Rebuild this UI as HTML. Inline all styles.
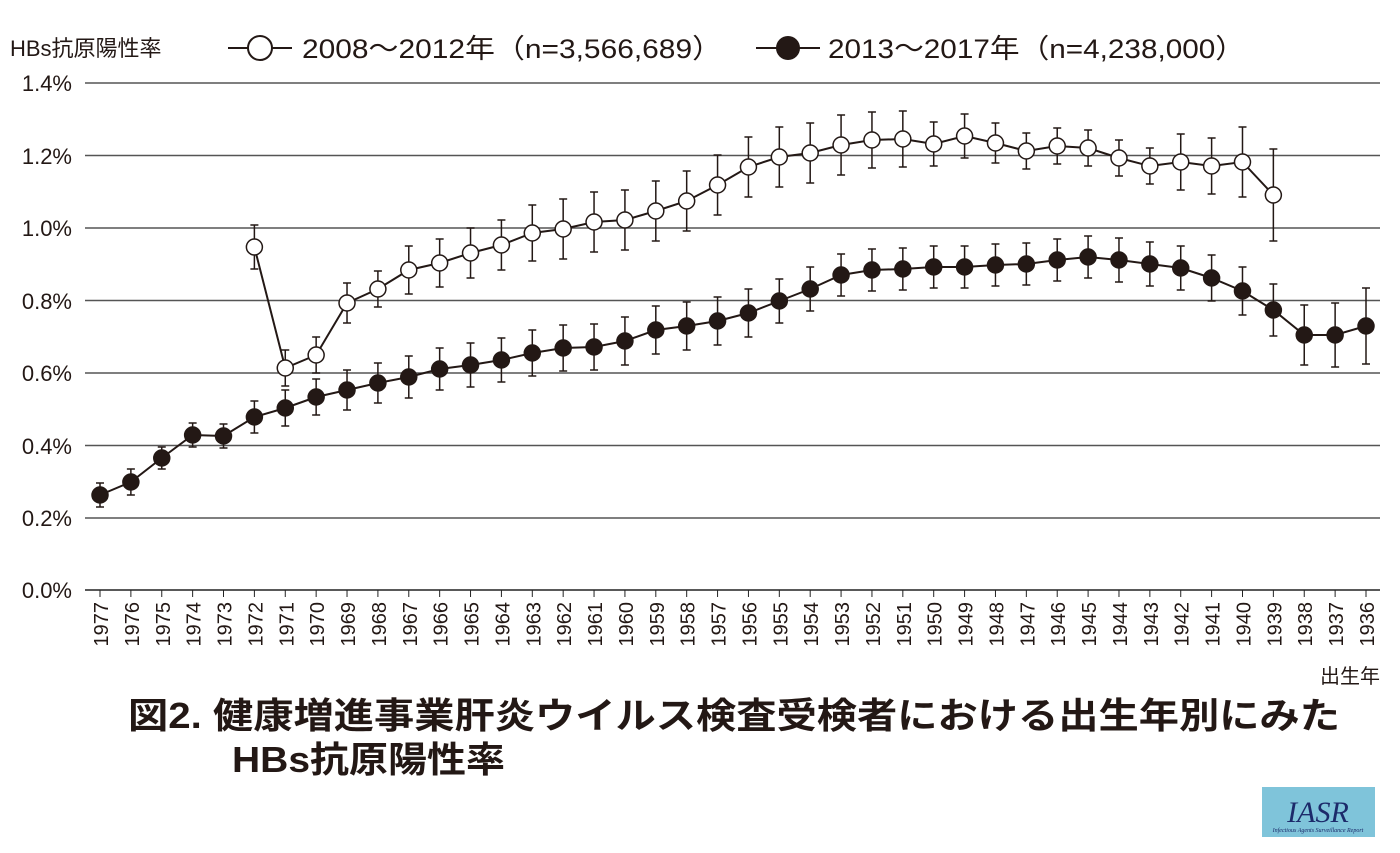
<!DOCTYPE html>
<html><head><meta charset="utf-8"><style>
body{margin:0;background:#fff;width:1400px;height:848px;overflow:hidden}
text{font-family:"Liberation Sans","Noto Sans CJK JP",sans-serif;fill:#231815}
</style></head><body>
<svg id="s" width="1400" height="848" xmlns="http://www.w3.org/2000/svg">
<g stroke="#555" stroke-width="1.5">
<line x1="85" x2="1380" y1="83" y2="83"/><line x1="85" x2="1380" y1="155.5" y2="155.5"/>
<line x1="85" x2="1380" y1="228" y2="228"/><line x1="85" x2="1380" y1="300.5" y2="300.5"/>
<line x1="85" x2="1380" y1="373" y2="373"/><line x1="85" x2="1380" y1="445.5" y2="445.5"/>
<line x1="85" x2="1380" y1="518" y2="518"/><line x1="85" x2="1380" y1="590" y2="590" stroke="#222"/>
</g>
<g font-size="22" text-anchor="end">
<text x="72" y="91">1.4%</text><text x="72" y="164">1.2%</text><text x="72" y="236">1.0%</text>
<text x="72" y="309">0.8%</text><text x="72" y="381">0.6%</text><text x="72" y="454">0.4%</text>
<text x="72" y="526">0.2%</text><text x="72" y="598">0.0%</text>
</g>
<text x="10" y="56" font-size="22">HBs抗原陽性率</text>
<line x1="228" y1="48" x2="292" y2="48" stroke="#231815" stroke-width="2"/>
<circle cx="260" cy="48" r="12" fill="#fff" stroke="#231815" stroke-width="2"/>
<text x="302" y="58" font-size="27" textLength="420" lengthAdjust="spacingAndGlyphs">2008～2012年（n=3,566,689）</text>
<line x1="756" y1="48" x2="820" y2="48" stroke="#231815" stroke-width="2"/>
<circle cx="788" cy="48" r="12" fill="#231815"/>
<text x="828" y="58" font-size="27" textLength="417" lengthAdjust="spacingAndGlyphs">2013～2017年（n=4,238,000）</text>
<text x="1380" y="683" font-size="20" text-anchor="end">出生年</text>
<text x="128" y="728" font-size="36" font-weight="bold" textLength="1212" lengthAdjust="spacingAndGlyphs">図2. 健康増進事業肝炎ウイルス検査受検者における出生年別にみた</text>
<text x="232" y="772" font-size="36" font-weight="bold" textLength="273" lengthAdjust="spacingAndGlyphs">HBs抗原陽性率</text>
<rect x="1262" y="787" width="113" height="50" fill="#7fc4da"/>
<text x="1318" y="822" font-size="30" font-style="italic" text-anchor="middle" style="font-family:'Liberation Serif',serif;fill:#1c2a6a">IASR</text>
<text x="1318" y="832" font-size="6" font-style="italic" text-anchor="middle" style="font-family:'Liberation Serif',serif;fill:#1c2a6a">Infectious Agents Surveillance Report</text>
<g id="g"></g>
</svg>
<script>
var x0=100,dx=(1366-100)/41,g=document.getElementById('g'),h='';
for(var i=0;i<42;i++){var x=x0+i*dx;h+='<line x1="'+x+'" x2="'+x+'" y1="590" y2="597" stroke="#222"/>';
h+='<text transform="translate('+(x+8)+',602) rotate(-90)" font-size="20" text-anchor="end">'+(1977-i)+'</text>';}
var B=[495,482,458,435,436,417,408,397,390,383,377,369,365,360,353,348,347,341,330,326,321,313,301,289,275,270,269,267,267,265,264,260,257,260,264,268,278,291,310,335,335,326];
var BE=[12,13,11,12,12,16,18,18,20,20,21,21,22,22,23,23,23,24,24,24,24,24,22,22,21,21,21,21,21,21,21,21,21,22,22,22,23,24,26,30,32,38];
var W=[247,368,355,303,289,270,263,253,245,233,229,222,220,211,201,185,167,157,153,145,140,139,144,136,143,151,146,148,158,166,162,166,162,195];
var WE=[22,18,18,20,18,24,24,25,25,28,30,30,30,30,30,30,30,30,30,30,28,28,22,22,20,18,18,18,18,18,28,28,35,46];
function ser(Y,E,off,fill){var p='',m='',eb='';for(var j=0;j<Y.length;j++){var x=x0+(j+off)*dx,y=Y[j];p+=(j?'L':'M')+x+','+y;
eb+='<path d="M'+x+','+(y-E[j])+'V'+(y+E[j])+'M'+(x-4)+','+(y-E[j])+'h8M'+(x-4)+','+(y+E[j])+'h8" stroke="#231815" stroke-width="1.5" fill="none"/>';
m+='<circle cx="'+x+'" cy="'+y+'" r="8" fill="'+fill+'" stroke="#231815" stroke-width="1.5"/>';}
return eb+'<path d="'+p+'" stroke="#231815" stroke-width="2" fill="none"/>'+m;}
h+=ser(B,BE,0,'#231815')+ser(W,WE,5,'#fff');
g.innerHTML=h;
</script>
</body></html>
